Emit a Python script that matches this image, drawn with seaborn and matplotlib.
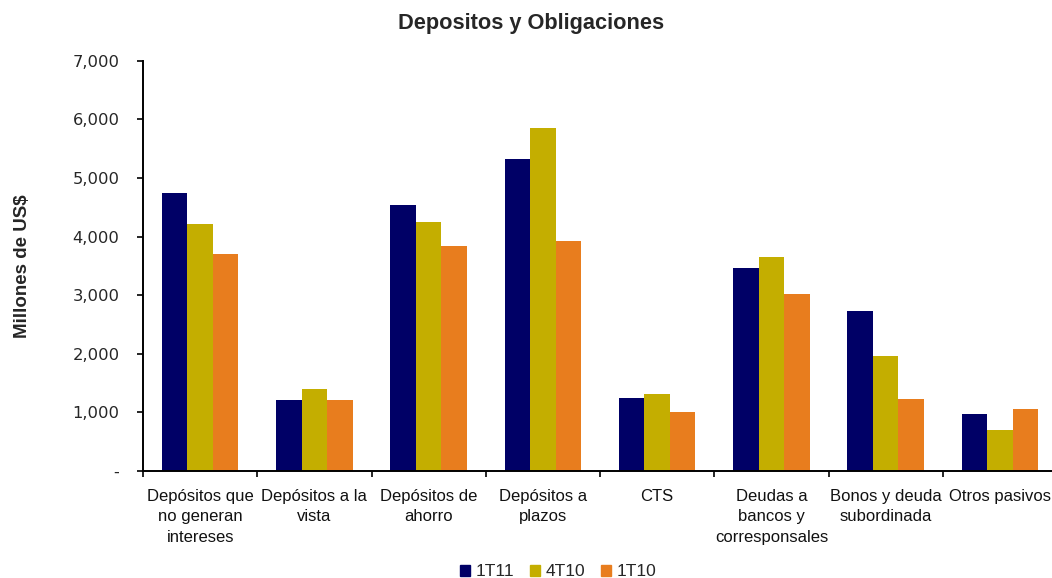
import matplotlib
matplotlib.use("Agg")
import matplotlib.pyplot as plt
from matplotlib.ticker import FuncFormatter, FixedLocator
import seaborn as sns
import pandas as pd

# Categories and values (millions of US$)
categories = [
    "Depósitos que\nno generan\nintereses",
    "Depósitos a la\nvista",
    "Depósitos de\nahorro",
    "Depósitos a\nplazos",
    "CTS",
    "Deudas a\nbancos y\ncorresponsales",
    "Bonos y deuda\nsubordinada",
    "Otros pasivos",
]
periods = ["1T11", "4T10", "1T10"]
v_1t11 = [4740, 1210, 4530, 5330, 1240, 3470, 2725, 970]
v_4t10 = [4210, 1395, 4245, 5860, 1310, 3655, 1955, 705]
v_1t10 = [3710, 1210, 3835, 3920, 1000, 3015, 1235, 1050]
colors = ["#000066", "#C4AE00", "#E87D1E"]

df = pd.DataFrame({
    "categoria": categories * 3,
    "periodo": [p for p in periods for _ in categories],
    "valor": v_1t11 + v_4t10 + v_1t10,
})

sns.set_theme(style="white")
plt.rcParams["font.family"] = ["Liberation Sans", "DejaVu Sans"]

W, H = 1052, 578
fig = plt.figure(figsize=(W / 100, H / 100), dpi=100)
ax = fig.add_axes([143 / W, (H - 471) / H, 914 / W, (471 - 60.7) / H])

sns.barplot(
    data=df, x="categoria", y="valor", hue="periodo",
    order=categories, hue_order=periods, palette=colors,
    width=0.67, linewidth=0, saturation=1, legend=False, ax=ax,
)

ax.set_xlim(-0.5, 7.5)
ax.set_ylim(0, 7000)
ax.set_yticks(range(0, 7001, 1000))
ax.yaxis.set_major_formatter(FuncFormatter(lambda v, _: "-" if v == 0 else f"{v:,.0f}"))
for lab in ax.get_yticklabels():
    lab.set_family("DejaVu Sans")
    lab.set_fontsize(11.8)

ax.xaxis.set_minor_locator(FixedLocator([k - 0.5 for k in range(9)]))
ax.tick_params(axis="x", which="major", length=0, pad=13, labelsize=12, colors="#111111")
ax.tick_params(axis="x", which="minor", length=4, width=1.2, direction="out", bottom=True, color="black")
ax.tick_params(axis="y", which="major", length=4, width=1.2, direction="out", left=True, pad=13, color="black")
for lab in ax.get_xticklabels():
    lab.set_linespacing(1.45)

for side in ("top", "right"):
    ax.spines[side].set_visible(False)
for side in ("left", "bottom"):
    ax.spines[side].set_color("black")
    ax.spines[side].set_linewidth(1.4)

ax.set_xlabel("")
ax.set_ylabel("Millones de US$", fontsize=13.5, fontweight="bold")
ax.yaxis.set_label_coords(-0.122, 0.5)

fig.text(531 / W, 1 - 24 / H, "Depositos y Obligaciones",
         ha="center", va="center", fontsize=15.7, fontweight="bold")

handles = [plt.Rectangle((0, 0), 1, 1, color=c) for c in colors]
fig.legend(handles, periods, loc="center", bbox_to_anchor=(558 / W, 1 - 572 / H),
           ncol=3, frameon=False, fontsize=12.5, handlelength=0.6, handleheight=0.6,
           handletextpad=0.3, columnspacing=0.9, borderpad=0)

fig.savefig("out.png", dpi=100)
